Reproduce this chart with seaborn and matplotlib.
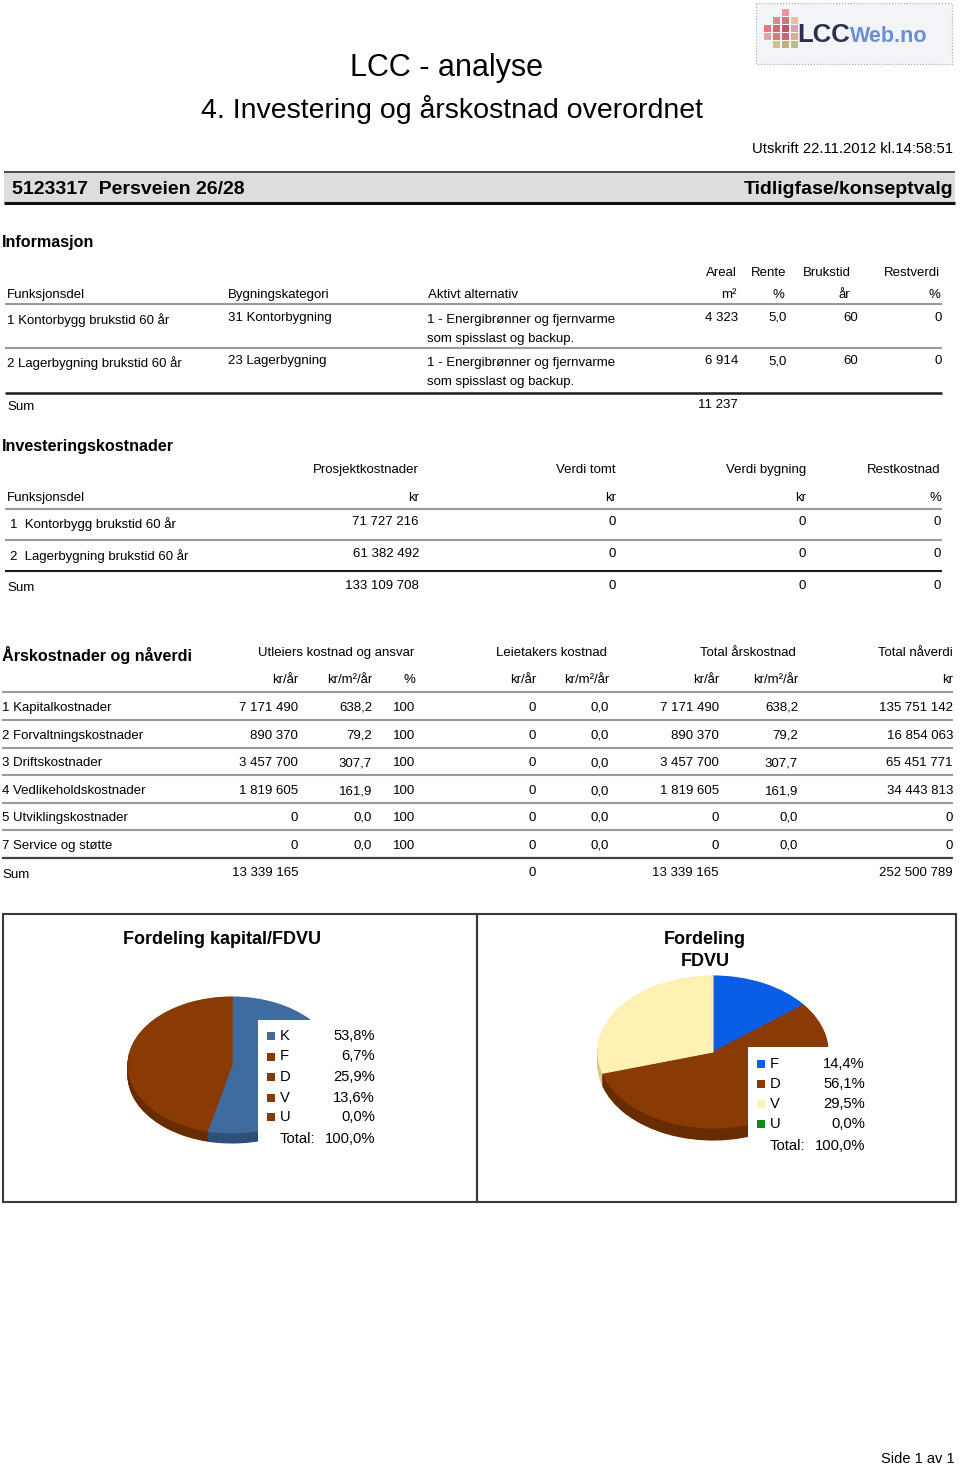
#!/usr/bin/env python3

import matplotlib
matplotlib.use('Agg')
import matplotlib.pyplot as plt
import seaborn as sns
import numpy as np
from matplotlib.patches import Rectangle

W, H = 960, 1467

# --- informasjon ---
info_parts = ['1 Kontorbygg brukstid 60 år', '2 Lagerbygning brukstid 60 år']
info_category = ['31 Kontorbygning', '23 Lagerbygning']
info_alt = ['1 - Energibrønner og fjernvarme\nsom spisslast og backup.',
            '1 - Energibrønner og fjernvarme\nsom spisslast og backup.']
info_area = ['4 323', '6 914']
info_rate = ['5,0', '5,0']
info_life = ['60', '60']
info_rest = ['0', '0']
info_area_sum = '11 237'

# --- investeringskostnader ---
inv_parts = ['1  Kontorbygg brukstid 60 år', '2  Lagerbygning brukstid 60 år']
inv_project = ['71 727 216', '61 382 492']
inv_site = ['0', '0']
inv_building = ['0', '0']
inv_rest = ['0', '0']
inv_sum = ['133 109 708', '0', '0', '0']

# --- årskostnader og nåverdi ---
cost_items = ['1 Kapitalkostnader', '2 Forvaltningskostnader', '3 Driftskostnader',
              '4 Vedlikeholdskostnader', '5 Utviklingskostnader', '7 Service og støtte']
landlord_year = ['7 171 490', '890 370', '3 457 700', '1 819 605', '0', '0']
landlord_m2 = ['638,2', '79,2', '307,7', '161,9', '0,0', '0,0']
landlord_pct = ['100', '100', '100', '100', '100', '100']
tenant_year = ['0', '0', '0', '0', '0', '0']
tenant_m2 = ['0,0', '0,0', '0,0', '0,0', '0,0', '0,0']
total_year = ['7 171 490', '890 370', '3 457 700', '1 819 605', '0', '0']
total_m2 = ['638,2', '79,2', '307,7', '161,9', '0,0', '0,0']
total_npv = ['135 751 142', '16 854 063', '65 451 771', '34 443 813', '0', '0']
cost_sum = ['13 339 165', '0', '13 339 165', '252 500 789']

# --- pies ---
pie1_labels = ['K', 'F', 'D', 'V', 'U']
pie1_values = [53.8, 6.7, 25.9, 13.6, 0.0]
pie2_labels = ['F', 'D', 'V', 'U']
pie2_values = [14.4, 56.1, 29.5, 0.0]

sns.set_theme(style='white')
plt.rcParams['font.family'] = ['Liberation Sans', 'DejaVu Sans']

fig = plt.figure(figsize=(W / 100, H / 100), dpi=100)
fig.patch.set_facecolor('white')


def draw_pie(cx, cy, rx, ry, depth, values, top, side):
    k = depth / ry
    ax = fig.add_axes([(cx - rx) / W, 1 - (cy + ry + depth) / H,
                       2 * rx / W, (2 * ry + depth) / H])
    for d in list(np.linspace(k, 0, 16)[:-1]) + [0.0]:
        cols = top if d == 0 else side
        wedges, _ = ax.pie(values, colors=cols, startangle=90, counterclock=False,
                           center=(0, -d), radius=1)
        for w, v in zip(wedges, values):
            w.set_edgecolor(w.get_facecolor())
            w.set_linewidth(0.8 if v > 0 else 0)
    ax.set_aspect('auto')
    ax.set_xlim(-1, 1)
    ax.set_ylim(-1 - k, 1)
    ax.axis('off')
    return ax


blue1, blue1_s = '#3F6B9F', '#2D4F78'
brown, brown_s = '#8A3A04', '#682C03'
blue2, blue2_s = '#0A5EE6', '#0846AE'
yellow, yellow_s = '#FFF0B3', '#D6C88E'
green = '#0F8A1C'

draw_pie(232, 1065, 104, 68, 10, pie1_values,
         [blue1, brown, brown, brown, brown],
         [blue1_s, brown_s, brown_s, brown_s, brown_s])
draw_pie(713, 1052, 115, 76, 12, pie2_values,
         [blue2, brown, yellow, green],
         [blue2_s, brown_s, yellow_s, green])

page = fig.add_axes([0, 0, 1, 1])
page.patch.set_alpha(0)
page.set_xlim(0, W)
page.set_ylim(H, 0)
page.axis('off')


def t(x, y, s, size=9.5, ha='left', weight='normal', color='black', **kw):
    # +2 px: matplotlib's centre sits a little above the visual centre
    page.text(x, y + 2, s, fontsize=size, ha=ha, va='center', fontweight=weight,
              color=color, **kw)


def hl(y, x0, x1, color='#9a9a9a', lw=1.5):
    page.plot([x0, x1], [y, y], color=color, lw=lw, solid_capstyle='butt')


# logo
page.add_patch(Rectangle((756, 3), 196, 61, facecolor='#F3F4F8', edgecolor='#AAAAAA',
                         lw=0.8, ls=':'))
sq = [(782, 9, '#E89AA0'), (773, 17, '#D98A8F'), (782, 17, '#C7787E'), (791, 17, '#E2C0A0'),
      (764, 25, '#E07A80'), (773, 25, '#D06A70'), (782, 25, '#B85A62'), (791, 25, '#D2A8B0'),
      (764, 33, '#E8A0A0'), (773, 33, '#D87A7A'), (782, 33, '#C86870'), (791, 33, '#D8B090'),
      (773, 41, '#D0C090'), (782, 41, '#C0B080'), (791, 41, '#B8C090')]
for x, y, c in sq:
    page.add_patch(Rectangle((x, y), 7, 7, facecolor=c, edgecolor='none'))
t(797, 33, 'LCC', size=18.5, weight='bold', color='#28324A')
t(850, 35, 'Web.no', size=15.5, weight='bold', color='#6B8FD3')

# headings
t(447, 66, 'LCC - analyse', size=22, ha='center')
t(452, 108, '4. Investering og årskostnad overordnet', size=20.5, ha='center')
t(953, 147, 'Utskrift 22.11.2012 kl.14:58:51', size=10.7, ha='right')

page.add_patch(Rectangle((4, 171), 951, 32, facecolor='#DDDDDD', edgecolor='none'))
hl(171.5, 4, 955, color='#333333', lw=1.2)
hl(203, 4, 955, color='#111111', lw=2.2)
t(12, 188, '5123317  Persveien 26/28', size=14, weight='bold')
t(953, 188, 'Tidligfase/konseptvalg', size=14, weight='bold', ha='right')

# Informasjon
t(2, 241, 'Informasjon', size=11.6, weight='bold')
for x, s in [(737, 'Areal'), (786, 'Rente'), (851, 'Brukstid'), (940, 'Restverdi')]:
    t(x, 271, s, ha='right')
t(7, 293, 'Funksjonsdel')
t(228, 293, 'Bygningskategori')
t(428, 293, 'Aktivt alternativ')
for x, s in [(737, 'm²'), (784, '%'), (850, 'år'), (940, '%')]:
    t(x, 293, s, ha='right')
hl(304, 5, 942)
for i, yy in enumerate([318, 361]):
    t(7, yy, info_parts[i])
    t(228, yy - 2, info_category[i])
    a1, a2 = info_alt[i].split('\n')
    t(427, yy, a1)
    t(427, yy + 19, a2)
    t(738, yy - 2, info_area[i], ha='right')
    t(787, yy - 2, info_rate[i], ha='right')
    t(858, yy - 2, info_life[i], ha='right')
    t(942, yy - 2, info_rest[i], ha='right')
hl(348, 5, 942)
hl(393, 5, 942, color='#1a1a1a', lw=1.8)
t(7, 405, 'Sum')
t(738, 403, info_area_sum, ha='right')

# Investeringskostnader
t(2, 444, 'Investeringskostnader', size=11.6, weight='bold')
inv_x = [419, 616, 806, 941]
for x, s in zip(inv_x, ['Prosjektkostnader', 'Verdi tomt', 'Verdi bygning', 'Restkostnad']):
    t(x, 468, s, ha='right')
t(7, 496, 'Funksjonsdel')
for x, s in zip(inv_x, ['kr', 'kr', 'kr', '%']):
    t(x, 496, s, ha='right')
hl(509, 5, 942)
for i, yy in enumerate([522, 554]):
    t(10, yy, inv_parts[i])
    for x, s in zip(inv_x, [inv_project[i], inv_site[i], inv_building[i], inv_rest[i]]):
        t(x, yy - 2, s, ha='right')
hl(540, 5, 942)
hl(571, 5, 942, color='#1a1a1a', lw=1.5)
t(7, 586, 'Sum')
for x, s in zip(inv_x, inv_sum):
    t(x, 584, s, ha='right')

# Årskostnader og nåverdi
t(2, 653, 'Årskostnader og nåverdi', size=11.6, weight='bold')
t(336, 651, 'Utleiers kostnad og ansvar', ha='center')
t(552, 651, 'Leietakers kostnad', ha='center')
t(748, 651, 'Total årskostnad', ha='center')
t(953, 651, 'Total nåverdi', ha='right')
cx = [298, 372, 415, 536, 609, 719, 798, 953]
for x, s in zip(cx, ['kr/år', 'kr/m²/år', '%', 'kr/år', 'kr/m²/år', 'kr/år', 'kr/m²/år', 'kr']):
    t(x, 678, s, ha='right')
row_y = [706, 734, 761, 789, 816, 844]
hl(692, 2, 953)
for i, yy in enumerate(row_y):
    t(2, yy, cost_items[i])
    vals = [landlord_year[i], landlord_m2[i], landlord_pct[i], tenant_year[i],
            tenant_m2[i], total_year[i], total_m2[i], total_npv[i]]
    for x, s in zip(cx, vals):
        t(x, yy, s, ha='right')
    if i < len(row_y) - 1:
        hl(yy + 14, 2, 953)
hl(857.5, 2, 953, color='#444444', lw=1.6)
t(2, 873, 'Sum')
for x, s in zip([298, 536, 719, 953], cost_sum):
    t(x, 871, s, ha='right')

# chart frames
for x0, x1 in [(3, 477), (477, 956)]:
    page.add_patch(Rectangle((x0, 914), x1 - x0, 288, facecolor='none',
                             edgecolor='#3a3a3a', lw=1.5))

t(222, 938, 'Fordeling kapital/FDVU', size=13, weight='bold', ha='center')
t(705, 937, 'Fordeling', size=13, weight='bold', ha='center')
t(705, 959, 'FDVU', size=13, weight='bold', ha='center')


def legend(x0, y0, box_w, box_h, labels, values, colors, ys, xlab, xval):
    page.add_patch(Rectangle((x0, y0), box_w, box_h, facecolor='white', edgecolor='none'))
    for lab, v, c, yy in zip(labels, values, colors, ys):
        page.add_patch(Rectangle((xlab - 13, yy - 2), 8, 8, facecolor=c, edgecolor='none'))
        t(xlab, yy, lab, size=10.6)
        t(xval, yy, f'{v:.1f}'.replace('.', ',') + '%', size=10.6, ha='right')
    total = sum(values)
    t(xlab, ys[-1] + 22, 'Total:', size=10.6)
    t(xval, ys[-1] + 22, f'{total:.1f}'.replace('.', ',') + '%', size=10.6, ha='right')


legend(258, 1020, 90, 130, pie1_labels, pie1_values,
       [blue1, brown, brown, brown, brown], [1034, 1054.5, 1075, 1095.5, 1115],
       280, 375)
legend(748, 1047, 90, 100, pie2_labels, pie2_values,
       [blue2, brown, yellow, green], [1062, 1082, 1102, 1122], 770, 865)

t(955, 1457, 'Side 1 av 1', size=10.5, ha='right')

fig.savefig('out.png', dpi=100)
